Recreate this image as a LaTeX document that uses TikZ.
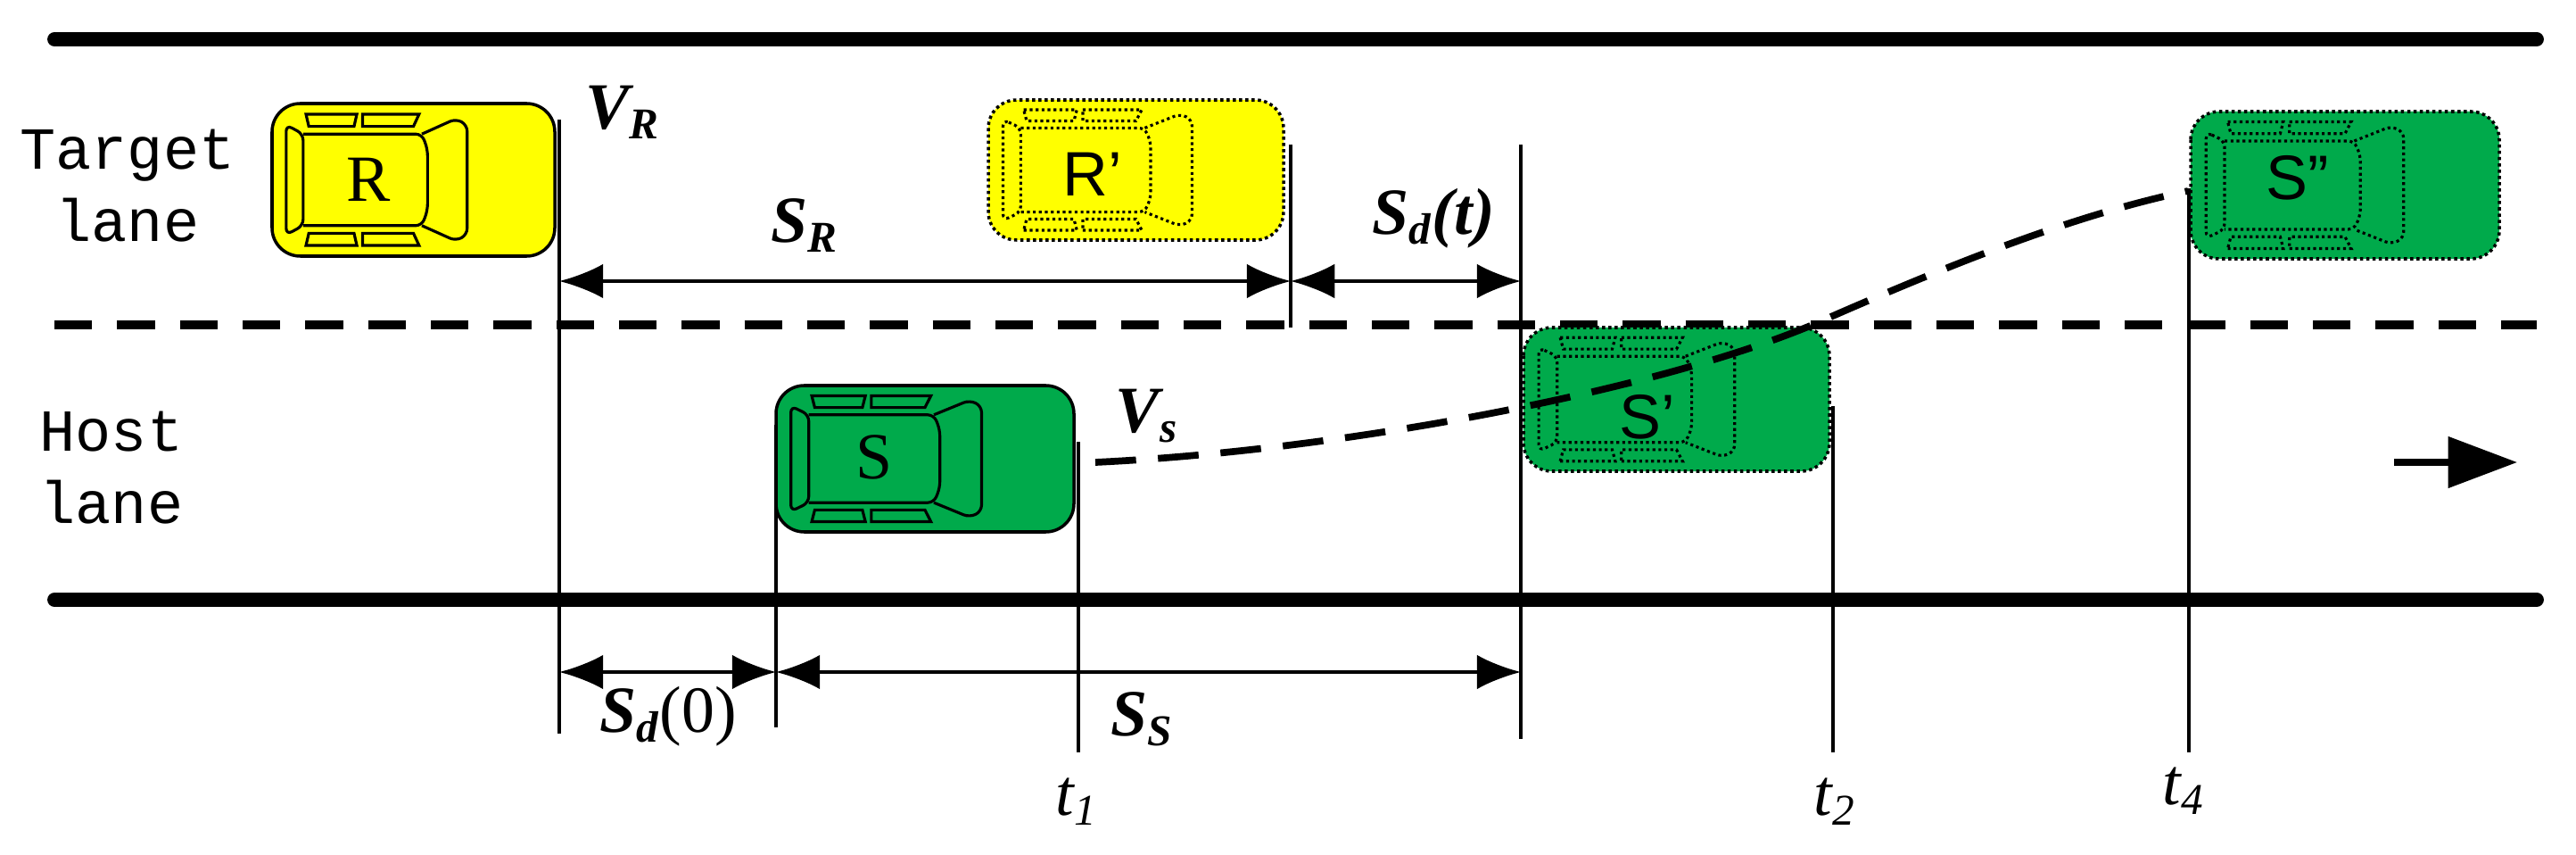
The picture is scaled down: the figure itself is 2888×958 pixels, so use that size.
\documentclass[tikz,border=0pt]{standalone}
\usepackage{fontspec}
\setmainfont{Liberation Serif}
\setsansfont{Liberation Sans}
\setmonofont{Liberation Mono}
\usetikzlibrary{arrows.meta}
\definecolor{cy}{RGB}{255,255,0}
\definecolor{cg}{RGB}{0,170,75}
\tikzset{
 road/.style={line width=4.5pt,line cap=round},
 vline/.style={line width=0.9pt},
 dim/.style={line width=1.1pt,{Latex[length=14pt,width=11pt]}-{Latex[length=14pt,width=11pt]}},
 mlab/.style={font=\fontsize{21}{21}\selectfont\bfseries\itshape},
 lanelab/.style={font=\ttfamily\fontsize{19}{23}\selectfont,align=center},
 clab/.style={font=\fontsize{21}{21}\selectfont},
 slab/.style={font=\sffamily\fontsize{20}{20}\selectfont},
 tlab/.style={font=\fontsize{21}{21}\selectfont\itshape},
}
% x y length height fill borderstyle
\newcommand\drawcar[6]{%
\begin{scope}[shift={(#1,#2)},xscale=#3,yscale=#4]
 \draw[fill=#5,#6,line width=1pt,rounded corners=9pt] (0,0) rectangle (1,1);
 \draw[#6,line width=0.9pt,rounded corners=2pt] (0.05,0.14) -- (0.11,0.2) -- (0.11,0.8) -- (0.05,0.86) -- cycle;
 \draw[#6,line width=0.9pt,rounded corners=2pt] (0.11,0.2) -- (0.53,0.2) -- (0.55,0.3) -- (0.55,0.7) -- (0.53,0.8) -- (0.11,0.8);
 \draw[#6,line width=0.9pt,rounded corners=2pt] (0.53,0.2) -- (0.65,0.1) -- (0.69,0.14) -- (0.69,0.86) -- (0.65,0.9) -- (0.53,0.8);
 \draw[#6,line width=0.9pt] (0.12,0.07) -- (0.3,0.07) -- (0.29,0.15) -- (0.13,0.15) -- cycle
   (0.32,0.07) -- (0.52,0.07) -- (0.5,0.15) -- (0.32,0.15) -- cycle
   (0.12,0.93) -- (0.3,0.93) -- (0.29,0.85) -- (0.13,0.85) -- cycle
   (0.32,0.93) -- (0.52,0.93) -- (0.5,0.85) -- (0.32,0.85) -- cycle;
\end{scope}}
\begin{document}
\begin{tikzpicture}[x=0.01cm,y=-0.01cm]
\useasboundingbox (0,0) rectangle (2888,958);
% road
\draw[road] (61,44) -- (2844,44);
\draw[road] (61,672) -- (2844,672);
\draw[line width=3pt,dash pattern=on 12pt off 8pt] (61,364) -- (2844,364);
% lane labels
\node[lanelab] (tl) at (143,208) {Target\\lane};
\node[lanelab] (hl) at (125,524) {Host\\lane};
% cars
\drawcar{305}{116}{317}{171}{cy}{solid}
\drawcar{1108}{112}{331}{157}{cy}{densely dotted}
\drawcar{870}{432}{334}{164}{cg}{solid}
\drawcar{1708}{367}{343}{161}{cg}{densely dotted}
\drawcar{2456}{125}{346}{165}{cg}{densely dotted}
\node[clab] (R) at (413,201) {R};
\node[slab] (R2) at (1225,195) {R’};
\node[clab] (S) at (980,512) {S};
\node[slab] (S1) at (1847,467) {S’};
\node[slab] (S2) at (2576,199) {S”};
% vertical lines
\coordinate (a1) at (627,134); \coordinate (a2) at (627,822);
\coordinate (b1) at (1447,162); \coordinate (b2) at (1447,367);
\coordinate (c1) at (1705,162); \coordinate (c2) at (1705,828);
\coordinate (d1) at (870,476); \coordinate (d2) at (870,815);
\coordinate (e1) at (1209,495); \coordinate (e2) at (1209,843);
\coordinate (f1) at (2055,455); \coordinate (f2) at (2055,843);
\coordinate (g1) at (2454,211); \coordinate (g2) at (2454,843);
\foreach \p in {a,b,c,d,e,f,g} \draw[vline] (\p1) -- (\p2);
% dimension arrows
\coordinate (sr1) at (627,315); \coordinate (sr2) at (1447,315); \coordinate (sd2) at (1705,315);
\draw[dim] (sr1) -- (sr2);
\draw[dim] (sr2) -- (sd2);
\coordinate (l1) at (627,753); \coordinate (l2) at (870,753); \coordinate (l3) at (1705,753);
\draw[dim] (l1) -- (l2);
\draw[dim] (l2) -- (l3);
% math labels
\node[mlab] (VR) at (698,126) {V\textsubscript{\fontsize{14}{14}\selectfont R}};
\node[mlab] (SR) at (902,253) {S\textsubscript{\fontsize{14}{14}\selectfont R}};
\node[mlab] (Sdt) at (1607,245) {S\textsubscript{\fontsize{14}{14}\selectfont d}(t)};
\node[mlab] (Vs) at (1286,466) {V\textsubscript{\fontsize{14}{14}\selectfont s}};
\node[mlab] (Sd0) at (749,803) {S\textsubscript{\fontsize{14}{14}\selectfont d}\textup{\mdseries(0)}};
\node[mlab] (SS) at (1281,806) {S\textsubscript{\fontsize{14}{14}\selectfont S}};
\node[tlab] (t1) at (1207,898) {t\textsubscript{\fontsize{14}{14}\selectfont 1}};
\node[tlab] (t2) at (2057,898) {t\textsubscript{\fontsize{14}{14}\selectfont 2}};
\node[tlab] (t4) at (2448,886) {t\textsubscript{\fontsize{14}{14}\selectfont 4}};
% trajectory
\coordinate (p0) at (1228,518); \coordinate (p3) at (2453,214);
\draw[line width=2.2pt,dash pattern=on 13pt off 7pt] (p0) .. controls (1500,505) and (1850,440) .. (2032,364) .. controls (2200,290) and (2330,240) .. (p3);
% direction arrow
\coordinate (da1) at (2684,518); \coordinate (da2) at (2822,518);
\draw[line width=2pt,-{Triangle[length=22pt,width=16pt]}] (da1) -- (da2);
\end{tikzpicture}
\end{document}
